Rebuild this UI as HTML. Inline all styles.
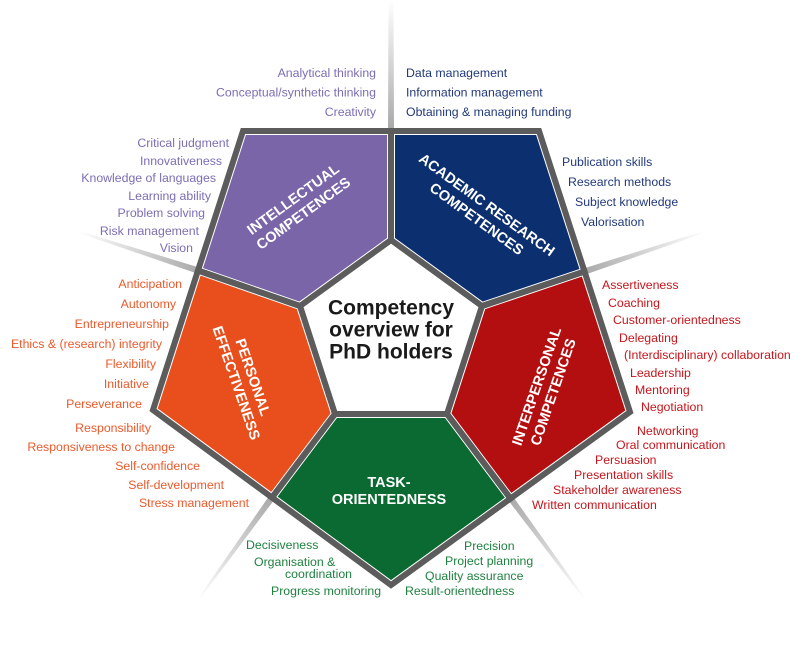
<!DOCTYPE html>
<html><head><meta charset="utf-8"><style>
html,body{margin:0;padding:0;background:#fff;}
svg{display:block;}
text{font-family:"Liberation Sans",Arial,sans-serif;}
.l{font-size:12.3px;}
.p{fill:#7d6db3}.b{fill:#22397a}.r{fill:#c4161c}.o{fill:#ea5a2c}.g{fill:#1f8140}
.t{font-size:14.5px;font-weight:bold;fill:#fff;text-anchor:middle;}
</style></head><body>
<svg width="800" height="648" viewBox="0 0 800 648" xmlns="http://www.w3.org/2000/svg">
<defs>
<linearGradient id="gt" x1="391" y1="0" x2="391" y2="130" gradientUnits="userSpaceOnUse"><stop offset="0" stop-color="#fff"/><stop offset="1" stop-color="#a9a9a9"/></linearGradient>
<linearGradient id="gl" x1="198" y1="270" x2="79" y2="232" gradientUnits="userSpaceOnUse"><stop offset="0" stop-color="#a9a9a9"/><stop offset="1" stop-color="#fff"/></linearGradient>
<linearGradient id="gr" x1="584" y1="271" x2="704" y2="232" gradientUnits="userSpaceOnUse"><stop offset="0" stop-color="#a9a9a9"/><stop offset="1" stop-color="#fff"/></linearGradient>
<linearGradient id="gbl" x1="272" y1="497" x2="198" y2="600" gradientUnits="userSpaceOnUse"><stop offset="0" stop-color="#a9a9a9"/><stop offset="1" stop-color="#fff"/></linearGradient>
<linearGradient id="gbr" x1="510" y1="498" x2="585" y2="600" gradientUnits="userSpaceOnUse"><stop offset="0" stop-color="#a9a9a9"/><stop offset="1" stop-color="#fff"/></linearGradient>
<clipPath id="cp1"><polygon points="243,131 391,131 391,240 300,306 198,270.5"/></clipPath>
<clipPath id="cp2"><polygon points="391,131 539,131 584.5,271.5 482,306 391,240"/></clipPath>
<clipPath id="cp3"><polygon points="482,306 584.5,271.5 630,412 510.5,498.5 447,414"/></clipPath>
<clipPath id="cp4"><polygon points="335,414 447,414 510.5,498.5 391,585 272,497.5"/></clipPath>
<clipPath id="cp5"><polygon points="198,270.5 300,306 335,414 272,497.5 153,410"/></clipPath>
</defs>

<!-- rays -->
<polygon points="388.5,0 393.5,0 394,130 388,130" fill="url(#gt)"/>
<polygon points="199,267.5 197,273.5 79,233 79.5,231" fill="url(#gl)"/>
<polygon points="583.5,268.5 585.5,274.5 704,233 703.5,231" fill="url(#gr)"/>
<polygon points="269.5,495.5 274.5,499.5 199,600 197.5,599" fill="url(#gbl)"/>
<polygon points="508,500 513,496.5 586,599 584.5,600" fill="url(#gbr)"/>

<!-- center -->
<polygon points="391,240 482,306 447,414 335,414 300,306" fill="#fff"/>

<!-- petals -->
<g stroke-linejoin="miter">
<polygon points="243,131 391,131 391,240 300,306 198,270.5" fill="#7a65a9"/>
<polygon points="243,131 391,131 391,240 300,306 198,270.5" fill="none" stroke="#fff" stroke-width="8" clip-path="url(#cp1)"/>
<polygon points="391,131 539,131 584.5,271.5 482,306 391,240" fill="#0c2f6f"/>
<polygon points="391,131 539,131 584.5,271.5 482,306 391,240" fill="none" stroke="#fff" stroke-width="8" clip-path="url(#cp2)"/>
<polygon points="482,306 584.5,271.5 630,412 510.5,498.5 447,414" fill="#b40f10"/>
<polygon points="482,306 584.5,271.5 630,412 510.5,498.5 447,414" fill="none" stroke="#fff" stroke-width="8" clip-path="url(#cp3)"/>
<polygon points="335,414 447,414 510.5,498.5 391,585 272,497.5" fill="#0a6a31"/>
<polygon points="335,414 447,414 510.5,498.5 391,585 272,497.5" fill="none" stroke="#fff" stroke-width="8" clip-path="url(#cp4)"/>
<polygon points="198,270.5 300,306 335,414 272,497.5 153,410" fill="#e84f1c"/>
<polygon points="198,270.5 300,306 335,414 272,497.5 153,410" fill="none" stroke="#fff" stroke-width="8" clip-path="url(#cp5)"/>

<g fill="none" stroke="#5c5c5c" stroke-width="6">
<polygon points="243,131 391,131 391,240 300,306 198,270.5"/>
<polygon points="391,131 539,131 584.5,271.5 482,306 391,240"/>
<polygon points="482,306 584.5,271.5 630,412 510.5,498.5 447,414"/>
<polygon points="335,414 447,414 510.5,498.5 391,585 272,497.5"/>
<polygon points="198,270.5 300,306 335,414 272,497.5 153,410"/>
</g>
</g>

<!-- center text -->
<g font-size="21" font-weight="bold" fill="#1a1a1a" text-anchor="middle">
<text x="391" y="314.5">Competency</text>
<text x="391" y="336.5">overview for</text>
<text x="391" y="358.5">PhD holders</text>
</g>

<!-- petal titles -->
<g transform="translate(298,206) rotate(-36)">
<text class="t" x="0" y="-3.5">INTELLECTUAL</text>
<text class="t" x="0" y="14">COMPETENCES</text>
</g>
<g transform="translate(482,211.5) rotate(36)">
<text class="t" x="0" y="-3.5">ACADEMIC RESEARCH</text>
<text class="t" x="0" y="14">COMPETENCES</text>
</g>
<g transform="translate(544.5,389) rotate(-71)">
<text class="t" x="0" y="-3.5">INTERPERSONAL</text>
<text class="t" x="0" y="14">COMPETENCES</text>
</g>
<g transform="translate(245,380) rotate(71)">
<text class="t" x="0" y="-3.5">PERSONAL</text>
<text class="t" x="0" y="14">EFFECTIVENESS</text>
</g>
<text class="t" x="389" y="487">TASK-</text>
<text class="t" x="389" y="504">ORIENTEDNESS</text>

<!-- purple lists -->
<g class="l p" text-anchor="end">
<text x="376" y="77">Analytical thinking</text>
<text x="376" y="96.5">Conceptual/synthetic thinking</text>
<text x="376" y="116">Creativity</text>
<text x="229" y="147">Critical judgment</text>
<text x="222" y="165">Innovativeness</text>
<text x="216" y="182">Knowledge of languages</text>
<text x="211" y="200">Learning ability</text>
<text x="205" y="217">Problem solving</text>
<text x="199" y="235">Risk management</text>
<text x="193" y="252">Vision</text>
</g>

<!-- blue lists -->
<g class="l b">
<text x="406" y="77">Data management</text>
<text x="406" y="96.5">Information management</text>
<text x="406" y="116">Obtaining &amp; managing funding</text>
<text x="562" y="166">Publication skills</text>
<text x="568" y="186">Research methods</text>
<text x="575" y="206">Subject knowledge</text>
<text x="581" y="226">Valorisation</text>
</g>

<!-- red lists -->
<g class="l r">
<text x="602" y="289">Assertiveness</text>
<text x="608" y="307">Coaching</text>
<text x="613" y="324">Customer-orientedness</text>
<text x="619" y="342">Delegating</text>
<text x="624" y="359">(Interdisciplinary) collaboration</text>
<text x="630" y="377">Leadership</text>
<text x="635" y="394">Mentoring</text>
<text x="641" y="411">Negotiation</text>
<text x="637" y="435">Networking</text>
<text x="616" y="449">Oral communication</text>
<text x="595" y="464">Persuasion</text>
<text x="574" y="479">Presentation skills</text>
<text x="553" y="494">Stakeholder awareness</text>
<text x="532" y="509">Written communication</text>
</g>

<!-- orange lists -->
<g class="l o" text-anchor="end">
<text x="182" y="288">Anticipation</text>
<text x="176" y="308">Autonomy</text>
<text x="169" y="328">Entrepreneurship</text>
<text x="162" y="348">Ethics &amp; (research) integrity</text>
<text x="156" y="368">Flexibility</text>
<text x="149" y="388">Initiative</text>
<text x="142" y="408">Perseverance</text>
<text x="151" y="432">Responsibility</text>
<text x="175" y="451">Responsiveness to change</text>
<text x="200" y="470">Self-confidence</text>
<text x="224" y="489">Self-development</text>
<text x="249" y="507">Stress management</text>
</g>

<!-- green lists -->
<g class="l g">
<text x="246" y="549">Decisiveness</text>
<text x="254" y="566">Organisation &amp;</text>
<text x="285" y="578">coordination</text>
<text x="271" y="595">Progress monitoring</text>
<text x="464" y="550">Precision</text>
<text x="445" y="565">Project planning</text>
<text x="425" y="580">Quality assurance</text>
<text x="405" y="595">Result-orientedness</text>
</g>
</svg>
</body></html>
